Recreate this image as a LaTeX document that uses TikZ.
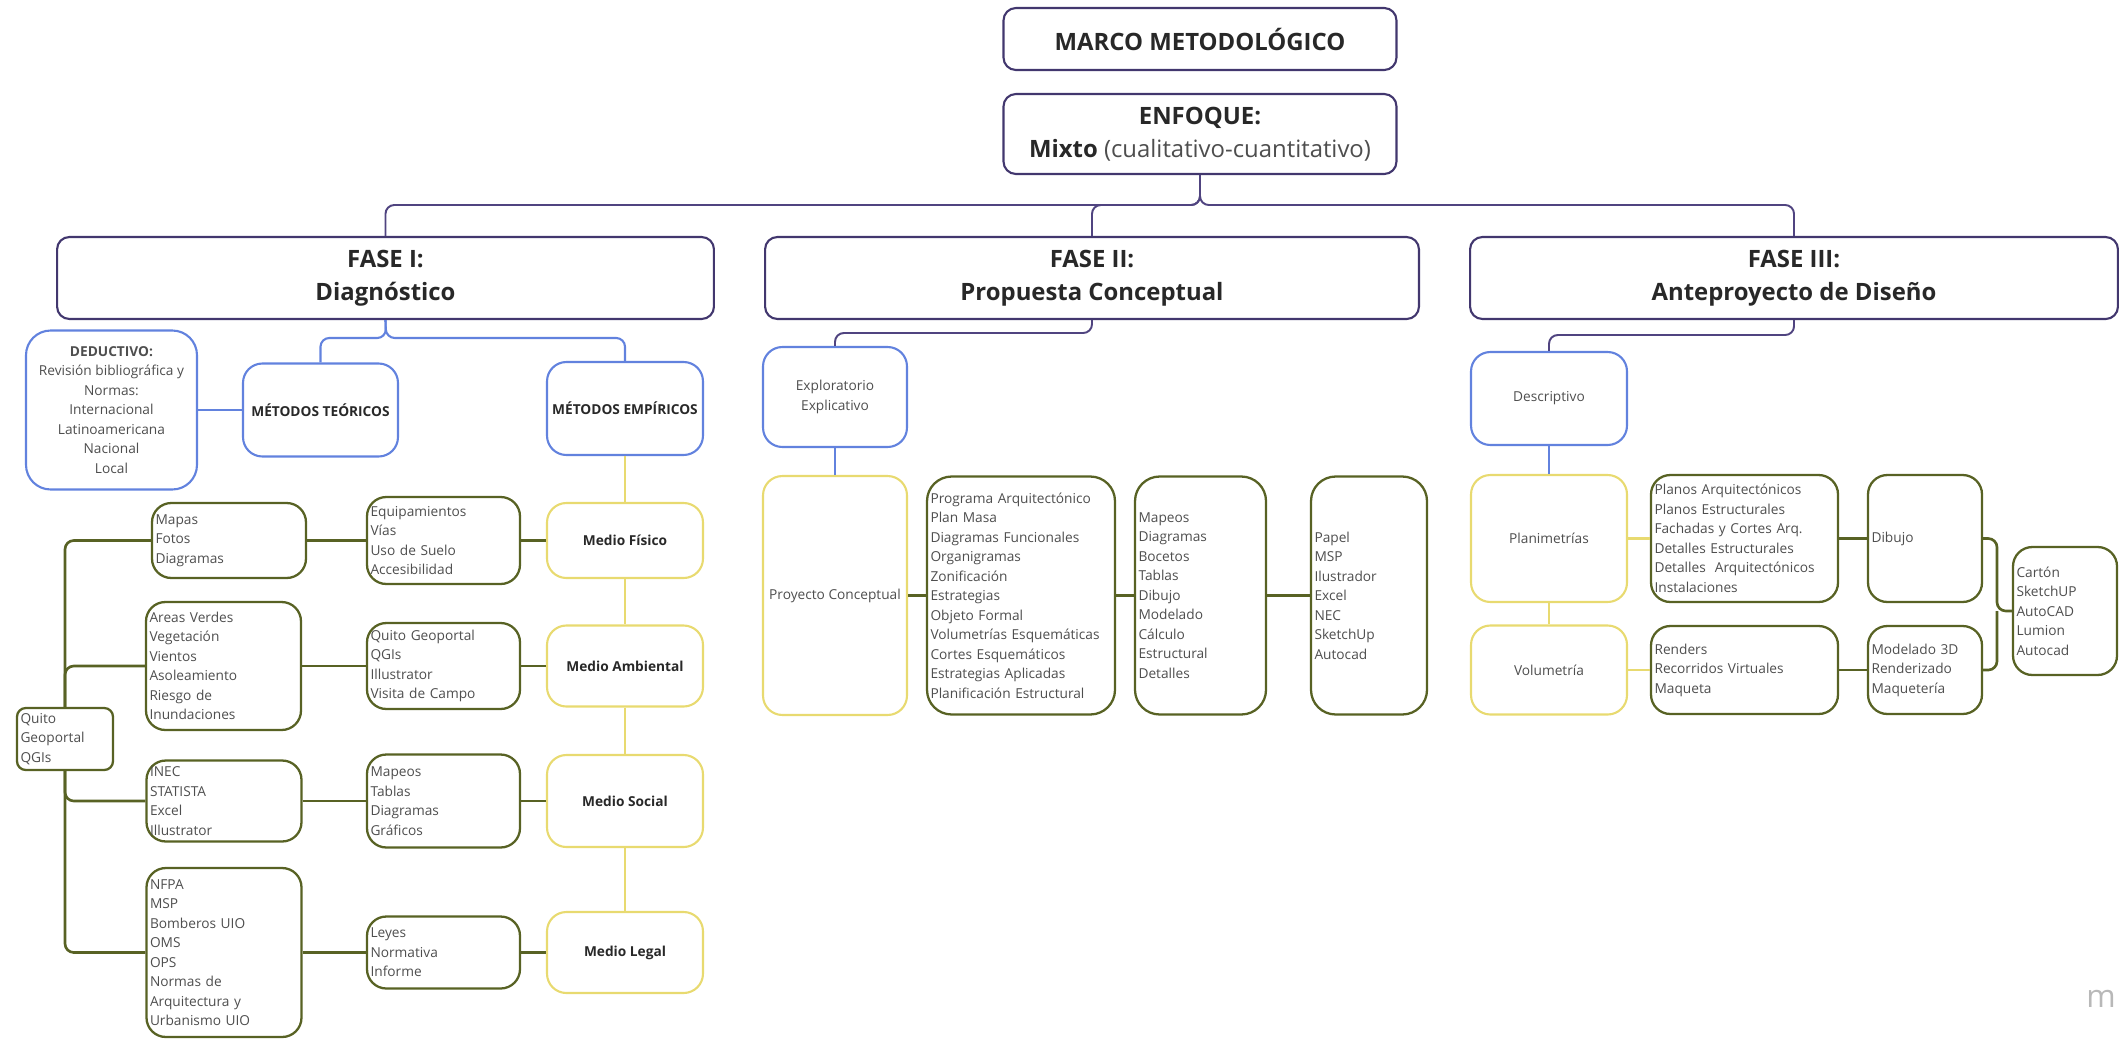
\documentclass[tikz,border=0pt]{standalone}
\usepackage{fontspec}
\setmainfont{Open Sans}
\usepackage{xcolor}
\usepackage{tikz}
\definecolor{fasecol}{RGB}{66,55,110}
\definecolor{linkcol}{RGB}{80,68,128}
\definecolor{bluecol}{RGB}{98,130,222}
\definecolor{yellowcol}{RGB}{232,218,112}
\definecolor{olivecol}{RGB}{88,98,36}
\definecolor{txtcol}{RGB}{78,78,78}
\definecolor{inkcol}{RGB}{40,40,40}
\newcommand{\bigtxt}{\fontsize{13.6}{18.8}\selectfont}
\newcommand{\smalltxt}{\fontsize{7.8}{11.1}\selectfont}

\begin{document}
\begin{tikzpicture}[x=0.02cm, y=-0.02cm,
  headbox/.style={draw=fasecol, line width=1.2pt, rounded corners=7pt, align=center,
                  font=\bigtxt\bfseries, text=inkcol, inner sep=0pt},
  bluebox/.style={draw=bluecol, line width=1.2pt, rounded corners=11pt, align=center,
                  font=\smalltxt, text=txtcol, inner sep=0pt},
  yellowbox/.style={draw=yellowcol, line width=1.2pt, rounded corners=11pt, align=center,
                  font=\smalltxt, text=txtcol, inner sep=0pt},
  itembox/.style={draw=olivecol, line width=1.3pt, rounded corners=11pt, align=left,
                  font=\smalltxt, text=txtcol, inner xsep=2pt, inner ysep=0pt, text width=#1},
  strong/.style={font=\smalltxt\bfseries, text=inkcol},
  purplelink/.style={draw=linkcol, line width=1.1pt, rounded corners=5pt},
  bluelink/.style={draw=bluecol, line width=1.2pt, rounded corners=5pt},
  yellowlink/.style={draw=yellowcol, line width=1.3pt, rounded corners=5pt},
  olivelink/.style={draw=olivecol, line width=1.5pt, rounded corners=5pt}
]
\useasboundingbox (0,0) rectangle (2119,1038);

\node[headbox, minimum width=7.86cm, minimum height=1.24cm] (marco) at (1200,39) {MARCO METODOLÓGICO};
\node[headbox, minimum width=7.86cm, minimum height=1.6cm] (enfoque) at (1200,134)
  {ENFOQUE:\\Mixto {\mdseries\color{txtcol}(cualitativo-cuantitativo)}};
\node[headbox, minimum width=13.14cm, minimum height=1.64cm] (fase1) at (385.5,278) {FASE I:\\Diagnóstico};
\node[headbox, minimum width=13.08cm, minimum height=1.64cm] (fase2) at (1092,278) {FASE II:\\Propuesta Conceptual};
\node[headbox, minimum width=12.96cm, minimum height=1.64cm] (fase3) at (1794,278) {FASE III:\\Anteproyecto de Diseño};

\coordinate (bus) at (1200,205);
\draw[purplelink] (enfoque.south) -- (bus) -| (fase1.north);
\draw[purplelink] (enfoque.south) -- (bus) -| (fase2.north);
\draw[purplelink] (enfoque.south) -- (bus) -| (fase3.north);

\node[bluebox, rounded corners=14pt, minimum width=3.42cm, minimum height=3.18cm] (deduct) at (111.5,410)
  {\textbf{DEDUCTIVO:}\\Revisión bibliográfica y\\Normas:\\Internacional\\Latinoamericana\\Nacional\\Local};
\node[bluebox, strong, minimum width=3.1cm, minimum height=1.86cm] (teor) at (320.5,410) {MÉTODOS TEÓRICOS};
\node[bluebox, strong, minimum width=3.12cm, minimum height=1.86cm] (empir) at (625,408.5) {MÉTODOS EMPÍRICOS};

\coordinate (f1split) at (386,338);
\draw[bluelink] (fase1.south) -- (f1split) -| (teor.north);
\draw[bluelink] (fase1.south) -- (f1split) -| (empir.north);
\draw[bluelink] (deduct.east) -- (teor.west);

\node[yellowbox, strong, minimum width=3.12cm, minimum height=1.5cm] (fisico) at (625,540.5) {Medio Físico};
\node[yellowbox, strong, minimum width=3.12cm, minimum height=1.62cm] (ambiental) at (625,666) {Medio Ambiental};
\node[yellowbox, strong, minimum width=3.12cm, minimum height=1.84cm] (social) at (625,801) {Medio Social};
\node[yellowbox, strong, minimum width=3.12cm, minimum height=1.62cm] (legal) at (625,952.5) {Medio Legal};

\draw[yellowlink] (empir.south) -- (fisico.north);
\draw[yellowlink] (fisico.south) -- (ambiental.north);
\draw[yellowlink] (ambiental.south) -- (social.north);
\draw[yellowlink] (social.south) -- (legal.north);

\node[itembox=2.92cm, minimum height=1.74cm] (equip) at (443.5,540.5)
  {Equipamientos\\Vías\\Uso de Suelo\\Accesibilidad};
\node[itembox=2.92cm, minimum height=1.72cm] (qgeo) at (443.5,666)
  {Quito Geoportal\\QGIs\\Illustrator\\Visita de Campo};
\node[itembox=2.92cm, minimum height=1.86cm] (mapeosa) at (443.5,801)
  {Mapeos\\Tablas\\Diagramas\\Gráficos};
\node[itembox=2.92cm, minimum height=1.44cm] (leyes) at (443.5,952.5)
  {Leyes\\Normativa\\Informe};

\node[itembox=2.94cm, minimum height=1.5cm] (mapas) at (229,540.5) {Mapas\\Fotos\\Diagramas};
\node[itembox=2.96cm, minimum height=2.56cm] (areas) at (223.5,666)
  {Areas Verdes\\Vegetación\\Vientos\\Asoleamiento\\Riesgo de\\Inundaciones};
\node[itembox=2.96cm, minimum height=1.62cm] (inec) at (224,801) {INEC\\STATISTA\\Excel\\Illustrator};
\node[itembox=2.96cm, minimum height=3.38cm] (nfpa) at (224,952.5)
  {NFPA\\MSP\\Bomberos UIO\\OMS\\OPS\\Normas de\\Arquitectura y\\Urbanismo UIO};
\node[itembox=1.78cm, rounded corners=5pt, minimum height=1.24cm] (quito) at (65,739) {Quito\\Geoportal\\QGIs};

\draw[olivelink] (quito.north) |- (mapas.west);
\draw[olivelink] (quito.north) |- (areas.west);
\draw[olivelink] (quito.south) |- (inec.west);
\draw[olivelink] (quito.south) |- (nfpa.west);
\draw[olivelink] (mapas.east) -- (equip.west);
\draw[olivelink] (equip.east) -- (fisico.west);
\draw[olivelink] (areas.east) -- (qgeo.west);
\draw[olivelink] (qgeo.east) -- (ambiental.west);
\draw[olivelink] (inec.east) -- (mapeosa.west);
\draw[olivelink] (mapeosa.east) -- (social.west);
\draw[olivelink] (nfpa.east) -- (leyes.west);
\draw[olivelink] (leyes.east) -- (legal.west);

\node[bluebox, minimum width=2.88cm, minimum height=2.0cm] (explor) at (835,397) {Exploratorio\\Explicativo};
\node[yellowbox, minimum width=2.88cm, minimum height=4.78cm] (pc) at (835,595.5) {Proyecto Conceptual};
\node[itembox=3.62cm, rounded corners=14pt, minimum height=4.76cm] (programa) at (1021,595.5)
  {Programa Arquitectónico\\Plan Masa\\Diagramas Funcionales\\Organigramas\\Zonificación\\Estrategias\\Objeto Formal\\Volumetrías Esquemáticas\\Cortes Esquemáticos\\Estrategias Aplicadas\\Planificación Estructural};
\node[itembox=2.48cm, rounded corners=14pt, minimum height=4.76cm] (mapeosb) at (1200.5,595.5)
  {Mapeos\\Diagramas\\Bocetos\\Tablas\\Dibujo\\Modelado\\Cálculo\\Estructural\\Detalles};
\node[itembox=2.18cm, rounded corners=14pt, minimum height=4.76cm] (papel) at (1369,595.5)
  {Papel\\MSP\\Ilustrador\\Excel\\NEC\\SketchUp\\Autocad};

\coordinate (f2split) at (1092,333);
\draw[purplelink] (fase2.south) -- (f2split) -| (explor.north);
\draw[bluelink] (explor.south) -- (pc.north);
\draw[olivelink] (pc.east) -- (programa.west);
\draw[olivelink] (programa.east) -- (mapeosb.west);
\draw[olivelink] (mapeosb.east) -- (papel.west);

\node[bluebox, minimum width=3.12cm, minimum height=1.86cm] (descr) at (1549,398.5) {Descriptivo};
\node[yellowbox, minimum width=3.12cm, minimum height=2.54cm] (plan) at (1549,538.5) {Planimetrías};
\node[yellowbox, minimum width=3.12cm, minimum height=1.78cm] (vol) at (1549,670) {Volumetría};
\node[itembox=3.6cm, minimum height=2.54cm] (planos) at (1744.5,538.5)
  {Planos Arquitectónicos\\Planos Estructurales\\Fachadas y Cortes Arq.\\Detalles Estructurales\\Detalles~ Arquitectónicos\\Instalaciones};
\node[itembox=2.14cm, minimum height=2.54cm] (dibujo) at (1925,538.5) {Dibujo};
\node[itembox=3.6cm, minimum height=1.76cm] (renders) at (1744.5,670)
  {Renders\\Recorridos Virtuales\\Maqueta};
\node[itembox=2.14cm, minimum height=1.76cm] (modelado) at (1925,670)
  {Modelado 3D\\Renderizado\\Maquetería};
\node[itembox=1.94cm, minimum height=2.56cm] (carton) at (2065,611)
  {Cartón\\SketchUP\\AutoCAD\\Lumion\\Autocad};

\coordinate (f3split) at (1794,335);
\coordinate (join) at (1997,611);
\draw[purplelink] (fase3.south) -- (f3split) -| (descr.north);
\draw[bluelink] (descr.south) -- (plan.north);
\draw[yellowlink] (plan.south) -- (vol.north);
\draw[yellowlink] (plan.east) -- (planos.west);
\draw[yellowlink] (vol.east) -- (renders.west);
\draw[olivelink] (planos.east) -- (dibujo.west);
\draw[olivelink] (renders.east) -- (modelado.west);
\draw[olivelink] (dibujo.east) -| (join) -- (carton.west);
\draw[olivelink] (modelado.east) -| (join);

\node[anchor=base east, inner sep=0pt, text=black!28, font=\fontsize{18}{18}\selectfont] (miro) at (2116,1007) {m};
\end{tikzpicture}
\end{document}
